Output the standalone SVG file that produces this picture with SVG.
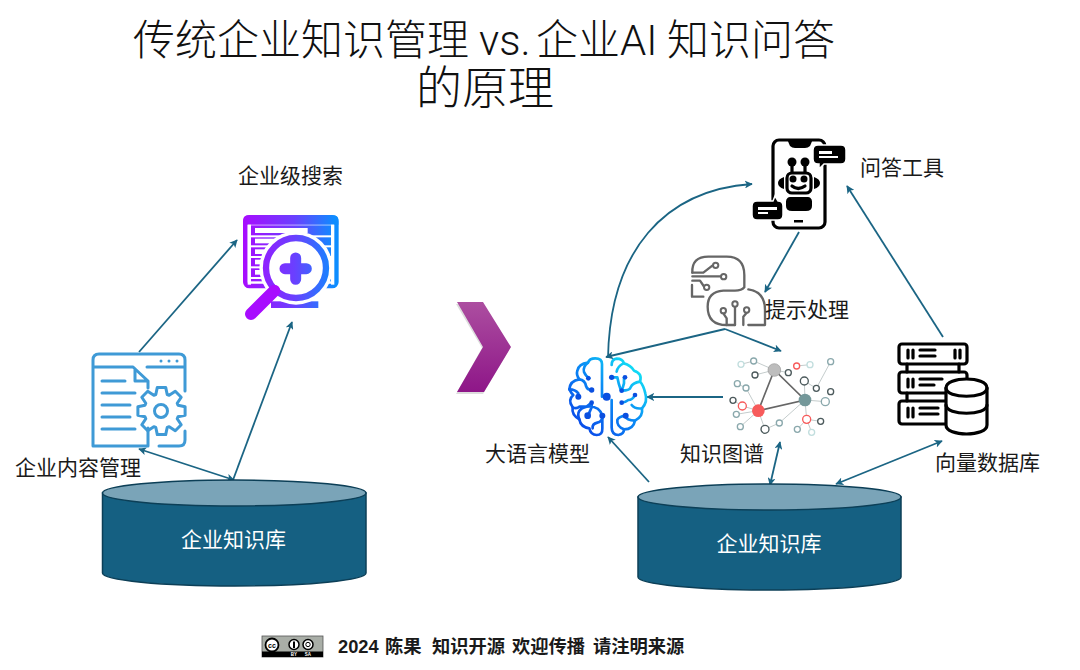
<svg xmlns="http://www.w3.org/2000/svg" width="1080" height="670" viewBox="0 0 1080 670">
<style>
text{font-family:"Liberation Sans","Noto Sans CJK SC",sans-serif;fill:#1a1a1a}
.t{font-size:42px;font-weight:300;fill:#111}
.lat{font-family:Roboto,"Liberation Sans",sans-serif;font-weight:300}
.l{font-size:21px}
.w{font-size:21px;fill:#fff;text-anchor:middle}
.c{fill:none;stroke:#1b6584;stroke-width:1.8}
.body{fill:#156082;stroke:#0c3f57;stroke-width:1.5}
.top{fill:#7aa4b8;stroke:#0c3f57;stroke-width:1.5}
.bl{fill:none;stroke:#3f9ad6;stroke-width:3;stroke-linecap:round;stroke-linejoin:round}
.g{fill:none;stroke:#666;stroke-width:7;stroke-linecap:round;stroke-linejoin:round}
.gd{fill:#fff;stroke:#666;stroke-width:6}
.k{fill:none;stroke:#000;stroke-width:3.200;stroke-linejoin:round;stroke-linecap:round}
.kf{fill:#000}
.b{fill:none;stroke:url(#bg);stroke-width:8;stroke-linecap:round;stroke-linejoin:round}
.bd{fill:#0a4fe0}
.e1{fill:none;stroke:#666;stroke-width:5}
.e2{fill:none;stroke:#c4cccc;stroke-width:3}
.n{fill:#fff;stroke-width:4}
</style>
<defs>
<marker id="a" viewBox="0 0 10 10" refX="9" refY="5" markerWidth="8" markerHeight="8" orient="auto-start-reverse" markerUnits="userSpaceOnUse"><path d="M0 0L10 5L0 10L2.500 5Z" fill="#1b6584"/></marker>
<linearGradient id="sg" gradientUnits="userSpaceOnUse" x1="25" x2="300" y1="0" y2="0"><stop offset="0" stop-color="#a80cff"/><stop offset=".55" stop-color="#6b3fff"/><stop offset="1" stop-color="#0d8dff"/></linearGradient>
<linearGradient id="bg" gradientUnits="userSpaceOnUse" x1="40" y1="230" x2="230" y2="40"><stop offset="0" stop-color="#0a45e8"/><stop offset=".55" stop-color="#0a8cf5"/><stop offset="1" stop-color="#12e6f5"/></linearGradient>
<linearGradient id="ch" x1="0" x2="0" y1="0" y2="1"><stop offset="0" stop-color="#ac4ea0"/><stop offset="1" stop-color="#8e1688"/></linearGradient>
</defs>

<text class="t" y="55">
<tspan x="133">传统企业知识管理</tspan><tspan x="479" class="lat">vs.</tspan><tspan x="536">企业</tspan><tspan x="620" class="lat">AI</tspan><tspan x="667">知识问答</tspan>
</text>
<text class="t" x="416" y="104" style="font-size:46px">的原理</text>

<g id="connectors">
<path class="c" marker-end="url(#a)" d="M139 352L237 240"/>
<path class="c" marker-end="url(#a)" d="M233 480L292 322"/>
<path class="c" marker-start="url(#a)" marker-end="url(#a)" d="M139 449L234 480"/>
<path class="c" marker-end="url(#a)" d="M608 358C610 250 665 190 752 184"/>
<path class="c" marker-end="url(#a)" d="M799 232L765 292"/>
<path class="c" marker-end="url(#a)" d="M725 329L606 357"/>
<path class="c" marker-end="url(#a)" d="M725 329L781 351"/>
<path class="c" marker-end="url(#a)" d="M723 397L647 397"/>
<path class="c" marker-end="url(#a)" d="M649 482L608 437"/>
<path class="c" marker-start="url(#a)" marker-end="url(#a)" d="M770 485L780 442"/>
<path class="c" marker-start="url(#a)" marker-end="url(#a)" d="M836 484L942 441"/>
<path class="c" marker-end="url(#a)" d="M943 337L847 186"/>
</g>

<g id="search">
<g transform="translate(235,208) scale(.3333)">
<rect x="31" y="28" width="273" height="206" rx="12" fill="#fff" stroke="url(#sg)" stroke-width="14"/>
<path d="M25 36Q25 22 40 22H295Q310 22 310 36V50H25Z" fill="url(#sg)"/>
<rect x="48" y="52" width="240" height="168" fill="url(#sg)"/>
<g fill="#fff"><rect x="38" y="50" width="10" height="180"/><rect x="288" y="50" width="10" height="180"/><rect x="48" y="82" width="240" height="6"/><rect x="48" y="112" width="240" height="6"/><rect x="48" y="144" width="240" height="6"/><rect x="48" y="175" width="240" height="6"/><rect x="48" y="207" width="240" height="6"/>
<rect x="60" y="60" width="158" height="15"/><rect x="60" y="92" width="150" height="14"/><rect x="60" y="124" width="150" height="14"/><rect x="60" y="155" width="150" height="14"/><rect x="60" y="186" width="150" height="14"/></g>
<rect x="108" y="280" width="142" height="20" fill="url(#sg)"/>
<circle cx="183" cy="180" r="110" fill="#fff"/>
<circle cx="183" cy="180" r="90" fill="#fff" stroke="url(#sg)" stroke-width="19"/>
<path d="M48 318L118 248" stroke="#a80cff" stroke-width="36" stroke-linecap="round"/>
<path d="M150 182H214M182 150V214" stroke="url(#sg)" stroke-width="33" stroke-linecap="round"/>
</g>
<text class="l" x="238" y="183">企业级搜索</text>
</g>

<g id="cms">
<path class="bl" d="M148 388V381H135V370M133 367L148 381M148 428V446H93V360Q93 354 99 354H179Q185 354 185 360V391M93 367H133M147 367H185M185 431V440Q185 446 179 446H159M102 381H125M102 393H135M102 405H130M102 417H130M102 429H135"/>
<polygon class="bl" transform="translate(161.500,411)" points="-4.200,-23.600 4.200,-23.600 5.700,-16.500 7.700,-15.700 13.800,-19.700 19.700,-13.800 15.700,-7.700 16.500,-5.700 23.600,-4.200 23.600,4.200 16.500,5.700 15.700,7.700 19.700,13.800 13.800,19.700 7.700,15.700 5.700,16.500 4.200,23.600 -4.200,23.600 -5.700,16.500 -7.700,15.700 -13.800,19.700 -19.700,13.800 -15.700,7.700 -16.500,5.700 -23.600,4.200 -23.600,-4.200 -16.500,-5.700 -15.700,-7.700 -19.700,-13.800 -13.800,-19.700 -7.700,-15.700 -5.700,-16.500"/>
<circle class="bl" cx="161" cy="411" r="6.500"/>
<g fill="#3f9ad6"><circle cx="161" cy="361" r="1.500"/><circle cx="169" cy="361" r="1.500"/><circle cx="177" cy="361" r="1.500"/></g>
<text class="l" x="15" y="475">企业内容管理</text>
</g>

<g id="kb-left">
<path class="body" d="M102.500 493V573A131.750 13 0 0 0 366 573V493Z"/>
<ellipse class="top" cx="234.250" cy="493" rx="131.750" ry="13"/>
<text class="w" x="233.500" y="547">企业知识库</text>
</g>

<g id="chevron">
<path d="M457 303H483L511 347L484 393H457L483 347Z" fill="#777" opacity=".25" transform="translate(-1,1)"/>
<path d="M457 302H483L511 347L484 392H457L483 347Z" fill="url(#ch)"/>
</g>

<g id="bot">
<rect class="k" x="773" y="140" width="52" height="88" rx="6"/>
<path class="kf" d="M787 139H813L810 146Q808 148 805 148H795Q792 148 790 146Z"/>
<path class="kf" stroke="#fff" stroke-width="1.500" d="M818 145H841Q846 145 846 150V159Q846 164 841 164H824L819 169V164H818Q813 164 813 159V150Q813 145 818 145Z"/>
<path fill="#fff" d="M819 151H832V154H819ZM819 156H838V158H819Z"/>
<path class="kf" stroke="#fff" stroke-width="1.500" d="M757 201H773L775 196L778 201Q783 201 783 206V215Q783 220 778 220H757Q752 220 752 215V206Q752 201 757 201Z"/>
<path fill="#fff" d="M758 207H777V210H758ZM758 212H768V214H758Z"/>
<path class="k" d="M792 162V172M805 162V172" stroke-width="2"/>
<circle class="kf" cx="792" cy="162" r="4.500"/><circle class="kf" cx="805" cy="162" r="4.500"/>
<rect class="k" x="787" y="173" width="24" height="20" rx="5" stroke-width="3"/>
<circle class="kf" cx="793" cy="179" r="3.500"/><circle class="kf" cx="804" cy="179" r="3.500"/>
<path class="k" d="M792 186Q798 191 805 186" stroke-width="2"/>
<path class="kf" d="M784 177V189Q778 187 778 183T784 177ZM814 177V189Q820 187 820 183T814 177Z"/>
<path class="kf" d="M790 197H808Q811 197 812 201V206Q812 211 806 211H792Q786 211 786 206V201Q787 197 790 197Z"/>
<rect class="kf" x="794" y="220" width="9" height="2.500"/>
<text class="l" x="860" y="175">问答工具</text>
</g>

<g id="prompt">
<g transform="translate(685,250) scale(.3333)">
<path class="g" d="M22 68Q20 20 70 20H125Q178 20 178 75V112Q170 122 150 122H115Q68 125 68 170Q68 225 125 225H150"/>
<path class="g" d="M190 118Q240 125 240 180V225H190"/>
<path class="g" d="M22 68H55L82 47M22 79H106M22 92H45L56 108M21 105V140H55"/>
<circle class="gd" cx="92" cy="46" r="8"/><circle class="gd" cx="116" cy="80" r="8"/><circle class="gd" cx="65" cy="112" r="8"/>
<path class="g" d="M150 172V225M125 225V205L115 190M175 225V200L185 188"/>
<circle class="gd" cx="115" cy="182" r="8"/><circle class="gd" cx="150" cy="162" r="8"/><circle class="gd" cx="185" cy="180" r="8"/>
</g>
<text class="l" x="765" y="317">提示处理</text>
</g>

<g id="brain">
<g transform="translate(560,350) scale(.3333)">
<path class="b" d="M126 140V42Q126 25 106 25Q88 25 84 38Q56 42 52 62Q48 75 58 88Q30 92 28 118Q34 130 40 135Q22 150 38 172Q34 195 58 208Q62 232 88 235Q92 255 110 255Q128 255 127 235V200"/>
<path class="b" d="M155 150V232Q155 255 175 255Q192 253 192 238Q220 238 225 212Q250 200 246 175Q264 155 256 130Q250 105 240 95Q248 70 222 62Q212 45 192 40Q188 26 170 26Q155 28 155 45"/>
<path class="b" d="M84 38Q68 50 72 66Q78 80 88 84M58 88Q75 90 78 108Q82 120 95 120M28 118Q46 118 55 130V140M38 172Q50 178 58 170H80L95 158M95 158V172L84 197M58 208Q46 178 80 170Q118 166 127 197Q128 215 112 218Q96 222 98 235"/>
<path class="b" d="M190 40Q172 50 170 65M192 82V100Q190 112 183 122M155 82H172Q175 100 183 122M240 95Q218 98 212 112Q210 122 185 122M225 135Q218 150 205 150Q195 158 185 158M225 212Q200 212 195 197M192 238Q170 230 172 210Q175 200 197 197M246 175Q225 178 215 165"/>
<g class="bd"><circle cx="140" cy="140" r="12"/><circle cx="85" cy="85" r="7"/><circle cx="95" cy="120" r="8"/><circle cx="55" cy="140" r="9"/><circle cx="95" cy="158" r="7"/><circle cx="83" cy="197" r="10"/><circle cx="127" cy="197" r="9"/><circle cx="155" cy="82" r="8"/><circle cx="195" cy="82" r="7"/><circle cx="185" cy="122" r="7"/><circle cx="225" cy="135" r="7"/><circle cx="185" cy="158" r="7"/><circle cx="197" cy="197" r="9"/></g>
</g>
<text class="l" x="485" y="461">大语言模型</text>
</g>

<g id="graph">
<g transform="translate(725,350) scale(.3333)">
<path class="e2" d="M48 43L86 33L148 60L90 75M148 60L190 68M215 48L255 44M240 150L238 93L274 115L317 35M240 150L301 155M240 150L245 208L287 214M245 208L217 238M245 208L260 247M240 150L163 219L120 238M100 182L120 238M100 182L46 230M100 182L34 193M100 182L52 168L24 151M100 182L63 114L37 101"/>
<path class="e1" d="M148 60L100 182L240 150Z"/>
<circle cx="148" cy="60" r="19" fill="#bdbdbd" stroke="#999" stroke-width="2"/>
<circle cx="100" cy="182" r="19" fill="#f75b5b"/>
<circle cx="240" cy="150" r="19" fill="#74989a"/>
<g class="n" stroke="#c2dede"><circle cx="48" cy="43" r="9"/><circle cx="255" cy="44" r="9"/><circle cx="260" cy="247" r="9"/></g>
<g class="n" stroke="#8aa8ac"><circle cx="86" cy="33" r="9"/><circle cx="317" cy="35" r="9"/><circle cx="301" cy="155" r="12"/><circle cx="217" cy="238" r="9"/><circle cx="163" cy="219" r="9"/><circle cx="46" cy="230" r="9"/><circle cx="34" cy="193" r="9"/><circle cx="63" cy="114" r="9"/><circle cx="37" cy="101" r="9"/></g>
<g class="n" stroke="#4c5a5c"><circle cx="90" cy="75" r="9"/><circle cx="190" cy="68" r="9"/><circle cx="238" cy="93" r="12"/><circle cx="274" cy="115" r="9"/><circle cx="317" cy="125" r="9"/><circle cx="287" cy="214" r="9"/><circle cx="120" cy="238" r="12"/><circle cx="24" cy="151" r="9"/></g>
<g class="n" stroke="#f75b5b"><circle cx="215" cy="48" r="9"/><circle cx="245" cy="208" r="12"/><circle cx="52" cy="168" r="12"/></g>
</g>
<text class="l" x="680" y="461">知识图谱</text>
</g>

<g id="vector-db">
<rect class="k" x="899" y="344" width="68" height="20" rx="3"/>
<rect class="k" x="899" y="372" width="68" height="21" rx="3"/>
<rect class="k" x="899" y="401" width="68" height="23" rx="3"/>
<path class="k" d="M908 350V358M913 350V358M920 350H935M920 356H935M955 350V358M960 350V358M908 379V387M913 379V387M920 379H942M920 385H934M908 408V417M913 408V417M920 408H938M920 414H938M907 364V372M959 364V372M907 393V401" stroke-width="2.600"/>
<path d="M946 388V425C946 437 987 437 987 425V388C987 376 946 376 946 388Z" fill="#fff" stroke="#000" stroke-width="3.200"/>
<path class="k" d="M946 388C946 399 987 399 987 388M946 405C946 416 987 416 987 405" stroke-width="2.800"/>
<text class="l" x="935" y="470">向量数据库</text>
</g>

<g id="kb-right">
<path class="body" d="M638 497V577A131.500 13 0 0 0 901 577V497Z"/>
<ellipse class="top" cx="769.500" cy="497" rx="131.500" ry="13"/>
<text class="w" x="769" y="551">企业知识库</text>
</g>

<g id="footer">
<rect x="262" y="636" width="61" height="21" fill="#a9aea7" stroke="#555" stroke-width=".8"/>
<rect x="262" y="651.500" width="61" height="5.500" fill="#000"/>
<circle cx="272" cy="645" r="6.500" fill="#fff" stroke="#000" stroke-width="1.800"/>
<text x="272" y="647.500" text-anchor="middle" style="font-size:7px;font-weight:700;fill:#000">cc</text>
<circle cx="294" cy="644.500" r="5" fill="#fff" stroke="#000" stroke-width="1.500"/>
<circle cx="308" cy="644.500" r="5" fill="#fff" stroke="#000" stroke-width="1.500"/>
<path d="M294 641.500V648" stroke="#000" stroke-width="2"/>
<circle cx="308" cy="644.500" r="2.200" fill="none" stroke="#000"/>
<text x="294" y="656" text-anchor="middle" style="font-size:4.500px;font-weight:700;fill:#fff">BY</text>
<text x="308" y="656" text-anchor="middle" style="font-size:4.500px;font-weight:700;fill:#fff">SA</text>
<text y="653" style="font-size:18.300px;font-weight:700"><tspan x="338">2024</tspan><tspan x="385">陈果</tspan><tspan x="432">知识开源</tspan><tspan x="512">欢迎传播</tspan><tspan x="593">请注明来源</tspan></text>
</g>
</svg>
